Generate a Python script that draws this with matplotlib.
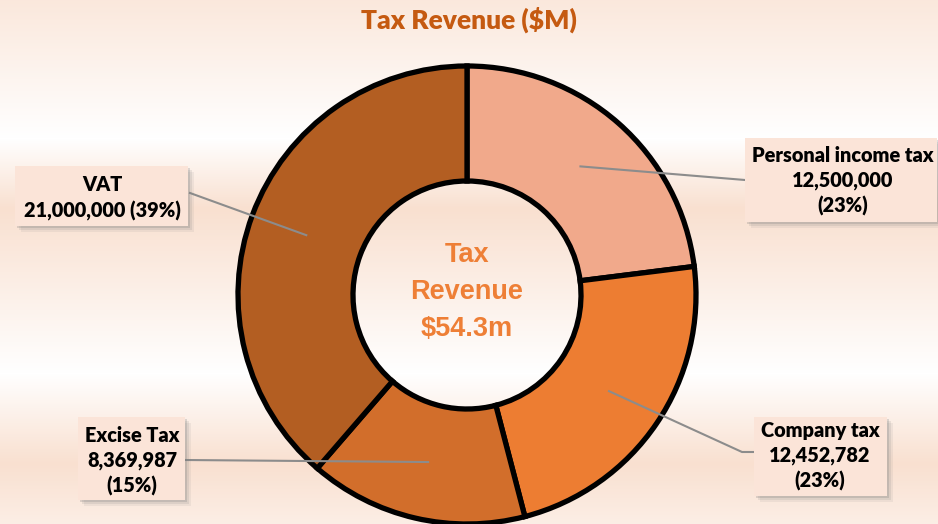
import numpy as np
import matplotlib.pyplot as plt
from matplotlib.patches import Rectangle

# data
categories = ['Personal income tax', 'Company tax', 'Excise Tax', 'VAT']
values = [12500000, 12452782, 8369987, 21000000]
colors = ['#F1A98B', '#ED7D32', '#D26E2B', '#B35E22']

W, H = 938, 524
fig = plt.figure(figsize=(W / 100, H / 100), dpi=100)
ax = fig.add_axes([0, 0, 1, 1])
ax.set_xlim(0, W)
ax.set_ylim(0, H)
ax.axis('off')

# background: soft vertical peach/white bands
ys = np.arange(H)
stops_y = [0, 60, 150, 315, 385, 524]
stops_t = [0.55, 1.0, 0.0, 1.0, 0.0, 0.75]
t = np.interp(ys, stops_y, stops_t)
peach = np.array([249, 224, 208]) / 255
white = np.array([255, 255, 255]) / 255
grad = white[None, :] * (1 - t[:, None]) + peach[None, :] * t[:, None]
img = np.repeat(grad[:, None, :], 2, axis=1)
ax.imshow(img, extent=[0, W, H, 0], aspect='auto', zorder=0, origin='upper')

# donut
cx, cy = 467, H - 295
R, r_in = 229, 114
ax.pie(values, colors=colors, startangle=90, counterclock=False,
       center=(cx, cy), radius=R, frame=True,
       wedgeprops=dict(width=R - r_in, edgecolor='black', linewidth=3.8))
ax.set_xlim(0, W)
ax.set_ylim(0, H)
ax.set_aspect('auto')
ax.axis('off')

ax.text(cx, H - 292, 'Tax\nRevenue\n$54.3m', ha='center', va='center',
        fontsize=19.5, fontweight='bold', color='#EE7F36',
        family='Liberation Sans', linespacing=1.55)

fig.text(469 / W, 1 - 20 / H, 'Tax Revenue ($M)', ha='center', va='center',
         fontsize=19, fontweight='heavy', color='#C55A11', family='Lato')

# label boxes (pixel coords, y from top): x0, y0, x1, y1, text center x, center y
total = sum(values)
texts = []
for name, v in zip(categories, values):
    pct = round(v / total * 100)
    texts.append((name, f'{v:,}', f'({pct}%)'))
label_text = [
    f'{texts[0][0]}\n{texts[0][1]}\n{texts[0][2]}',
    f'{texts[1][0]}\n{texts[1][1]}\n{texts[1][2]}',
    f'{texts[2][0]}\n{texts[2][1]}\n{texts[2][2]}',
    f'{texts[3][0]}\n{texts[3][1]} {texts[3][2]}',
]
boxes = [
    (745, 138, 937, 222, 843, 181),
    (754, 417, 887, 496, 820, 456),
    (78, 417, 185, 500, 132, 461),
    (15, 166, 188, 226, 102, 198),
]
ends = [(745, 180), (742, 452), (185, 460), (190, 193)]

for (x0, y0, x1, y1, tx, ty), txt in zip(boxes, label_text):
    for k, a in zip([7, 5, 3], [0.10, 0.15, 0.25]):
        ax.add_patch(Rectangle((x0 + k - 1, H - y1 - k + 1), x1 - x0, y1 - y0,
                               facecolor='#7f7f7f', edgecolor='none', alpha=a, zorder=3))
    ax.add_patch(Rectangle((x0, H - y1), x1 - x0, y1 - y0,
                           facecolor='#FBE4D8', edgecolor='none', zorder=4))
    ax.text(tx, H - ty, txt, ha='center', va='center', fontsize=14.3,
            fontweight='heavy', color='black', family='Lato',
            linespacing=1.38, zorder=5)

# leader lines from wedge mid ring to boxes
rmid = (R + r_in) / 2
cum = np.cumsum([0] + values[:-1])
for i, v in enumerate(values):
    frac = (cum[i] + v / 2) / total
    ang = np.deg2rad(90 - frac * 360)
    sx, sy = cx + rmid * np.cos(ang), cy + rmid * np.sin(ang)
    ex, ey = ends[i]
    xs = [sx, ex]
    yv = [sy, H - ey]
    if i == 1:
        xs.append(754)
        yv.append(H - ey)
    ax.plot(xs, yv, color='#8c8c8c', lw=1.5, zorder=2.5)

fig.savefig('out.png', dpi=100)
